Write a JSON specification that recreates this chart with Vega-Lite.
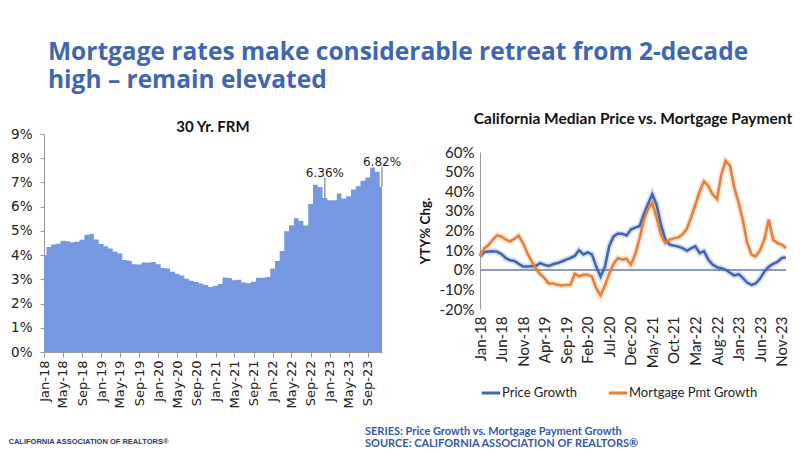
{
  "$schema": "https://vega.github.io/schema/vega-lite/v6.json",
  "padding": {"left": 8, "top": 40, "right": 5, "bottom": 0},
  "background": "white",
  "title": {
    "text": ["Mortgage rates make considerable retreat from 2-decade", "high – remain elevated"],
    "anchor": "start", "font": "Open Sans", "fontSize": 24.5, "fontWeight": "bold",
    "color": "#3F66B0", "dx": 40, "offset": 18, "lineHeight": 28
  },
  "resolve": {"scale": {"color": "independent"}, "legend": {"color": "independent"}},
  "datasets": {
    "m": [
      {"date": "2018-01-01", "rate": 3.99, "Price Growth": 6.8, "Mortgage Pmt Growth": 6.8},
      {"date": "2018-02-01", "rate": 4.33, "Price Growth": 9.0, "Mortgage Pmt Growth": 11.0},
      {"date": "2018-03-01", "rate": 4.44, "Price Growth": 9.3, "Mortgage Pmt Growth": 12.5},
      {"date": "2018-04-01", "rate": 4.47, "Price Growth": 9.4, "Mortgage Pmt Growth": 15.3},
      {"date": "2018-05-01", "rate": 4.59, "Price Growth": 9.2, "Mortgage Pmt Growth": 17.5},
      {"date": "2018-06-01", "rate": 4.57, "Price Growth": 8.0, "Mortgage Pmt Growth": 17.0},
      {"date": "2018-07-01", "rate": 4.53, "Price Growth": 6.0, "Mortgage Pmt Growth": 15.3},
      {"date": "2018-08-01", "rate": 4.55, "Price Growth": 4.8, "Mortgage Pmt Growth": 14.5},
      {"date": "2018-09-01", "rate": 4.63, "Price Growth": 4.5, "Mortgage Pmt Growth": 15.8},
      {"date": "2018-10-01", "rate": 4.83, "Price Growth": 3.0, "Mortgage Pmt Growth": 17.4},
      {"date": "2018-11-01", "rate": 4.87, "Price Growth": 1.7, "Mortgage Pmt Growth": 13.6},
      {"date": "2018-12-01", "rate": 4.64, "Price Growth": 1.6, "Mortgage Pmt Growth": 8.5},
      {"date": "2019-01-01", "rate": 4.46, "Price Growth": 1.8, "Mortgage Pmt Growth": 4.3},
      {"date": "2019-02-01", "rate": 4.37, "Price Growth": 2.0, "Mortgage Pmt Growth": 0.5},
      {"date": "2019-03-01", "rate": 4.27, "Price Growth": 3.4, "Mortgage Pmt Growth": -2.2},
      {"date": "2019-04-01", "rate": 4.14, "Price Growth": 2.5, "Mortgage Pmt Growth": -4.3},
      {"date": "2019-05-01", "rate": 4.07, "Price Growth": 1.9, "Mortgage Pmt Growth": -7.0},
      {"date": "2019-06-01", "rate": 3.80, "Price Growth": 2.8, "Mortgage Pmt Growth": -7.0},
      {"date": "2019-07-01", "rate": 3.77, "Price Growth": 3.4, "Mortgage Pmt Growth": -7.7},
      {"date": "2019-08-01", "rate": 3.62, "Price Growth": 4.2, "Mortgage Pmt Growth": -8.0},
      {"date": "2019-09-01", "rate": 3.61, "Price Growth": 5.2, "Mortgage Pmt Growth": -7.8},
      {"date": "2019-10-01", "rate": 3.69, "Price Growth": 6.0, "Mortgage Pmt Growth": -7.7},
      {"date": "2019-11-01", "rate": 3.70, "Price Growth": 7.0, "Mortgage Pmt Growth": -2.0},
      {"date": "2019-12-01", "rate": 3.72, "Price Growth": 10.0, "Mortgage Pmt Growth": -3.4},
      {"date": "2020-01-01", "rate": 3.62, "Price Growth": 7.8, "Mortgage Pmt Growth": -2.6},
      {"date": "2020-02-01", "rate": 3.47, "Price Growth": 8.8, "Mortgage Pmt Growth": -2.6},
      {"date": "2020-03-01", "rate": 3.45, "Price Growth": 7.8, "Mortgage Pmt Growth": -3.4},
      {"date": "2020-04-01", "rate": 3.31, "Price Growth": 1.5, "Mortgage Pmt Growth": -9.4},
      {"date": "2020-05-01", "rate": 3.23, "Price Growth": -3.5, "Mortgage Pmt Growth": -13.1},
      {"date": "2020-06-01", "rate": 3.16, "Price Growth": 1.5, "Mortgage Pmt Growth": -8.0},
      {"date": "2020-07-01", "rate": 3.02, "Price Growth": 12.0, "Mortgage Pmt Growth": -2.0},
      {"date": "2020-08-01", "rate": 2.94, "Price Growth": 17.0, "Mortgage Pmt Growth": 3.0},
      {"date": "2020-09-01", "rate": 2.89, "Price Growth": 18.5, "Mortgage Pmt Growth": 6.0},
      {"date": "2020-10-01", "rate": 2.83, "Price Growth": 18.3, "Mortgage Pmt Growth": 5.1},
      {"date": "2020-11-01", "rate": 2.77, "Price Growth": 17.5, "Mortgage Pmt Growth": 5.6},
      {"date": "2020-12-01", "rate": 2.68, "Price Growth": 20.5, "Mortgage Pmt Growth": 2.6},
      {"date": "2021-01-01", "rate": 2.74, "Price Growth": 21.5, "Mortgage Pmt Growth": 8.0},
      {"date": "2021-02-01", "rate": 2.81, "Price Growth": 22.3, "Mortgage Pmt Growth": 16.0},
      {"date": "2021-03-01", "rate": 3.08, "Price Growth": 28.0, "Mortgage Pmt Growth": 25.0},
      {"date": "2021-04-01", "rate": 3.06, "Price Growth": 33.5, "Mortgage Pmt Growth": 31.0},
      {"date": "2021-05-01", "rate": 2.96, "Price Growth": 38.5, "Mortgage Pmt Growth": 34.0},
      {"date": "2021-06-01", "rate": 2.98, "Price Growth": 33.0, "Mortgage Pmt Growth": 26.4},
      {"date": "2021-07-01", "rate": 2.87, "Price Growth": 23.0, "Mortgage Pmt Growth": 17.9},
      {"date": "2021-08-01", "rate": 2.84, "Price Growth": 15.5, "Mortgage Pmt Growth": 13.6},
      {"date": "2021-09-01", "rate": 2.90, "Price Growth": 12.8, "Mortgage Pmt Growth": 15.3},
      {"date": "2021-10-01", "rate": 3.07, "Price Growth": 12.3, "Mortgage Pmt Growth": 16.0},
      {"date": "2021-11-01", "rate": 3.07, "Price Growth": 11.8, "Mortgage Pmt Growth": 16.5},
      {"date": "2021-12-01", "rate": 3.10, "Price Growth": 11.0, "Mortgage Pmt Growth": 18.0},
      {"date": "2022-01-01", "rate": 3.45, "Price Growth": 9.7, "Mortgage Pmt Growth": 21.0},
      {"date": "2022-02-01", "rate": 3.76, "Price Growth": 11.0, "Mortgage Pmt Growth": 27.0},
      {"date": "2022-03-01", "rate": 4.17, "Price Growth": 11.9, "Mortgage Pmt Growth": 33.0},
      {"date": "2022-04-01", "rate": 4.98, "Price Growth": 8.5, "Mortgage Pmt Growth": 40.0},
      {"date": "2022-05-01", "rate": 5.23, "Price Growth": 9.5, "Mortgage Pmt Growth": 45.0},
      {"date": "2022-06-01", "rate": 5.52, "Price Growth": 5.1, "Mortgage Pmt Growth": 42.7},
      {"date": "2022-07-01", "rate": 5.41, "Price Growth": 2.6, "Mortgage Pmt Growth": 38.4},
      {"date": "2022-08-01", "rate": 5.22, "Price Growth": 1.2, "Mortgage Pmt Growth": 36.0},
      {"date": "2022-09-01", "rate": 6.11, "Price Growth": 0.8, "Mortgage Pmt Growth": 48.6},
      {"date": "2022-10-01", "rate": 6.90, "Price Growth": 0.0, "Mortgage Pmt Growth": 55.5},
      {"date": "2022-11-01", "rate": 6.81, "Price Growth": -1.5, "Mortgage Pmt Growth": 52.9},
      {"date": "2022-12-01", "rate": 6.36, "Price Growth": -3.0, "Mortgage Pmt Growth": 41.8},
      {"date": "2023-01-01", "rate": 6.27, "Price Growth": -2.2, "Mortgage Pmt Growth": 34.0},
      {"date": "2023-02-01", "rate": 6.26, "Price Growth": -4.3, "Mortgage Pmt Growth": 24.7},
      {"date": "2023-03-01", "rate": 6.54, "Price Growth": -6.5, "Mortgage Pmt Growth": 14.0},
      {"date": "2023-04-01", "rate": 6.34, "Price Growth": -7.7, "Mortgage Pmt Growth": 7.7},
      {"date": "2023-05-01", "rate": 6.43, "Price Growth": -7.0, "Mortgage Pmt Growth": 6.8},
      {"date": "2023-06-01", "rate": 6.71, "Price Growth": -4.5, "Mortgage Pmt Growth": 10.0},
      {"date": "2023-07-01", "rate": 6.84, "Price Growth": -1.0, "Mortgage Pmt Growth": 15.3},
      {"date": "2023-08-01", "rate": 7.07, "Price Growth": 1.5, "Mortgage Pmt Growth": 25.6},
      {"date": "2023-09-01", "rate": 7.20, "Price Growth": 3.0, "Mortgage Pmt Growth": 15.3},
      {"date": "2023-10-01", "rate": 7.62, "Price Growth": 4.0, "Mortgage Pmt Growth": 13.6},
      {"date": "2023-11-01", "rate": 7.44, "Price Growth": 6.0, "Mortgage Pmt Growth": 12.8},
      {"date": "2023-12-01", "rate": 6.82, "Price Growth": 6.3, "Mortgage Pmt Growth": 11.0}
    ],
    "ann": [
      {"date": "2022-12-01", "rate": 6.36, "label": "6.36%"},
      {"date": "2023-12-01", "rate": 6.82, "label": "6.82%"}
    ]
  },
  "vconcat": [
    {
      "title": {
        "text": ["SERIES: Price Growth vs. Mortgage Payment Growth", "SOURCE: CALIFORNIA ASSOCIATION OF REALTORS®"],
        "orient": "bottom", "anchor": "start", "dx": 357, "offset": -19,
        "font": "Lato", "fontSize": 11, "fontWeight": "bold", "color": "#3558A8", "lineHeight": 12
      },
      "spacing": 16,
      "resolve": {"scale": {"color": "independent"}, "legend": {"color": "independent"}},
      "hconcat": [
        {
          "width": 338,
          "height": 218,
          "title": {"text": "30 Yr. FRM", "font": "Lato", "fontSize": 15, "fontWeight": "bold", "color": "#111111", "offset": -8},
          "encoding": {
            "x": {
              "field": "date", "type": "temporal",
              "scale": {"type": "utc", "domain": [{"year": 2018, "month": 1, "date": 1, "utc": true}, {"year": 2023, "month": 12, "date": 1, "utc": true}]},
              "axis": {
                "values": [
                  {"year": 2018, "month": 1, "date": 1, "utc": true}, {"year": 2018, "month": 5, "date": 1, "utc": true}, {"year": 2018, "month": 9, "date": 1, "utc": true},
                  {"year": 2019, "month": 1, "date": 1, "utc": true}, {"year": 2019, "month": 5, "date": 1, "utc": true}, {"year": 2019, "month": 9, "date": 1, "utc": true},
                  {"year": 2020, "month": 1, "date": 1, "utc": true}, {"year": 2020, "month": 5, "date": 1, "utc": true}, {"year": 2020, "month": 9, "date": 1, "utc": true},
                  {"year": 2021, "month": 1, "date": 1, "utc": true}, {"year": 2021, "month": 5, "date": 1, "utc": true}, {"year": 2021, "month": 9, "date": 1, "utc": true},
                  {"year": 2022, "month": 1, "date": 1, "utc": true}, {"year": 2022, "month": 5, "date": 1, "utc": true}, {"year": 2022, "month": 9, "date": 1, "utc": true},
                  {"year": 2023, "month": 1, "date": 1, "utc": true}, {"year": 2023, "month": 5, "date": 1, "utc": true}, {"year": 2023, "month": 9, "date": 1, "utc": true}
                ],
                "format": "%b-%y", "labelAngle": -90, "labelFont": "DejaVu Sans", "labelFontSize": 13,
                "labelColor": "#222222", "labelPadding": 3, "tickSize": 5, "tickColor": "#999999", "domainColor": "#999999",
                "grid": false, "labelOverlap": false, "labelBound": false, "labelFlush": false,
                "title": "CALIFORNIA ASSOCIATION OF REALTORS®", "titleAnchor": "start", "titleAlign": "left",
                "titleX": -36, "titleY": 89, "titleBaseline": "middle",
                "titleFont": "Liberation Sans", "titleFontSize": 7.5, "titleFontWeight": "bold", "titleColor": "#1F3A6E"
              }
            },
            "y": {
              "field": "rate", "type": "quantitative",
              "scale": {"domain": [0, 9], "nice": false},
              "axis": {
                "values": [0, 1, 2, 3, 4, 5, 6, 7, 8, 9], "labelExpr": "datum.value + '%'",
                "labelFont": "DejaVu Sans", "labelFontSize": 13.5, "labelColor": "#222222",
                "tickSize": 4, "tickColor": "#999999", "labelPadding": 8, "domainColor": "#999999",
                "grid": false, "title": null, "labelOverlap": false, "labelBound": false, "labelFlush": false
              }
            }
          },
          "layer": [
            {
              "data": {"name": "m"},
              "mark": {"type": "area", "interpolate": "step", "color": "#7698E0"}
            },
            {
              "data": {"name": "ann"},
              "mark": {"type": "rule", "color": "#666666", "strokeWidth": 1, "y2Offset": -20},
              "encoding": {"y2": {"field": "rate"}}
            },
            {
              "data": {"name": "ann"},
              "mark": {"type": "text", "dy": -25, "font": "DejaVu Sans", "fontSize": 12, "color": "#222222"},
              "encoding": {"text": {"field": "label"}}
            }
          ]
        },
        {
          "width": 306,
          "height": 175,
          "title": {"text": "California Median Price vs. Mortgage Payment", "font": "Lato", "fontSize": 15.5, "fontWeight": "bold", "color": "#111111", "offset": 7},
          "data": {"name": "m"},
          "transform": [{"fold": ["Price Growth", "Mortgage Pmt Growth"], "as": ["series", "value"]}],
          "encoding": {
            "x": {
              "field": "date", "type": "temporal",
              "scale": {"type": "utc", "domain": [{"year": 2018, "month": 1, "date": 1, "utc": true}, {"year": 2023, "month": 12, "date": 1, "utc": true}]},
              "axis": {
                "values": [
                  {"year": 2018, "month": 1, "date": 1, "utc": true}, {"year": 2018, "month": 6, "date": 1, "utc": true}, {"year": 2018, "month": 11, "date": 1, "utc": true},
                  {"year": 2019, "month": 4, "date": 1, "utc": true}, {"year": 2019, "month": 9, "date": 1, "utc": true}, {"year": 2020, "month": 2, "date": 1, "utc": true},
                  {"year": 2020, "month": 7, "date": 1, "utc": true}, {"year": 2020, "month": 12, "date": 1, "utc": true}, {"year": 2021, "month": 5, "date": 1, "utc": true},
                  {"year": 2021, "month": 10, "date": 1, "utc": true}, {"year": 2022, "month": 3, "date": 1, "utc": true}, {"year": 2022, "month": 8, "date": 1, "utc": true},
                  {"year": 2023, "month": 1, "date": 1, "utc": true}, {"year": 2023, "month": 6, "date": 1, "utc": true}, {"year": 2023, "month": 11, "date": 1, "utc": true}
                ],
                "format": "%b-%y", "labelAngle": -90, "labelFont": "Lato", "labelFontSize": 15, "labelColor": "#222222",
                "labelPadding": 7, "domain": false, "ticks": false, "grid": false, "title": null, "labelOverlap": false, "labelFlush": false
              }
            },
            "y": {
              "field": "value", "type": "quantitative",
              "scale": {"domain": [-20, 60], "range": [175, 18], "nice": false, "zero": false},
              "axis": {
                "values": [-20, -10, 0, 10, 20, 30, 40, 50, 60], "labelExpr": "datum.value + '%'",
                "labelFont": "Lato", "labelFontSize": 15, "labelColor": "#222222", "labelPadding": 6,
                "ticks": false, "domainColor": "#999999", "grid": false, "labelOverlap": false, "labelFlush": false,
                "title": "YTY% Chg.", "titleFont": "Lato", "titleFontSize": 13.5, "titleFontWeight": "bold", "titleColor": "#111111", "titlePadding": 7
              }
            },
            "color": {
              "field": "series", "type": "nominal",
              "scale": {"domain": ["Price Growth", "Mortgage Pmt Growth"], "range": ["#3F66B3", "#E67E37"]},
              "legend": {
                "orient": "bottom", "direction": "horizontal", "title": null, "symbolType": "stroke",
                "symbolStrokeWidth": 3, "symbolSize": 340, "symbolOpacity": 1, "labelFont": "Lato", "labelFontSize": 13,
                "labelColor": "#222222", "labelOffset": 0, "columnPadding": 24, "offset": 14
              }
            }
          },
          "layer": [
            {
              "mark": {"type": "rule", "color": "#8A9CC0", "strokeWidth": 1},
              "encoding": {"y": {"datum": 0}, "x": null, "color": null}
            },
            {
              "mark": {"type": "line", "strokeWidth": 6, "opacity": 0.22}
            },
            {
              "mark": {"type": "line", "strokeWidth": 2.5}
            }
          ]
        }
      ]
    }
  ],
  "config": {
    "view": {"stroke": null},
    "axis": {"grid": false}
  }
}
